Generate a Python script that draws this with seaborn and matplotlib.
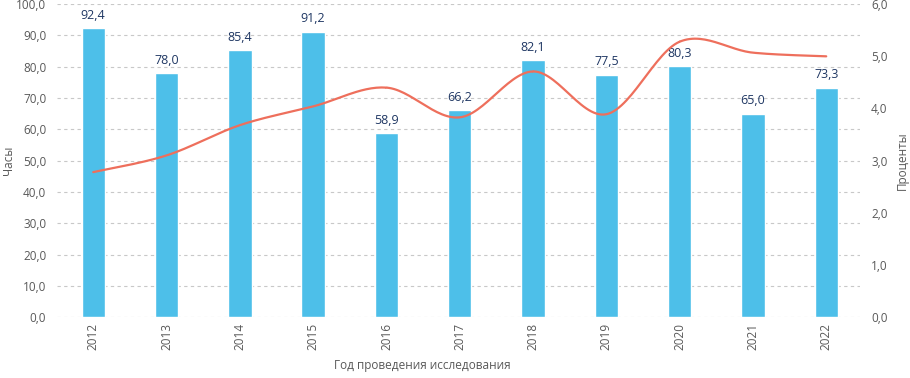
import numpy as np
import matplotlib
matplotlib.use("Agg")
import matplotlib.pyplot as plt
import seaborn as sns

years = ["2012", "2013", "2014", "2015", "2016", "2017", "2018", "2019", "2020", "2021", "2022"]
hours = [92.4, 78.0, 85.4, 91.2, 58.9, 66.2, 82.1, 77.5, 80.3, 65.0, 73.3]
percent = [2.78, 3.10, 3.68, 4.04, 4.40, 3.83, 4.71, 3.89, 5.28, 5.07, 5.00]

BAR = "#4DBFE9"
LINE = "#EE6F5C"
LABEL = "#1F3763"
TXT = "#595959"


def smooth(xs, ys, n=30):
    # Catmull-Rom curve through the points, like a spreadsheet "smoothed line"
    xs = np.asarray(xs, float)
    ys = np.asarray(ys, float)
    px = np.r_[xs[0], xs, xs[-1]]
    py = np.r_[ys[0], ys, ys[-1]]
    ox, oy = [], []
    t = np.linspace(0, 1, n)
    for i in range(1, len(px) - 2):
        for p, out in ((px, ox), (py, oy)):
            p0, p1, p2, p3 = p[i - 1], p[i], p[i + 1], p[i + 2]
            out.extend(0.5 * ((2 * p1) + (-p0 + p2) * t
                              + (2 * p0 - 5 * p1 + 4 * p2 - p3) * t ** 2
                              + (-p0 + 3 * p1 - 3 * p2 + p3) * t ** 3))
    return np.array(ox), np.array(oy)


sns.set_theme(style="white")
plt.rcParams["font.family"] = ["Open Sans", "DejaVu Sans"]

fig, ax = plt.subplots(figsize=(9.1, 3.78), dpi=100)
fig.subplots_adjust(left=0.063, right=0.945, top=0.989, bottom=0.161)

sns.barplot(x=years, y=hours, color=BAR, saturation=1, width=0.32, ax=ax, zorder=2)
for i, v in enumerate(hours):
    ax.text(i, v + 2.0, f"{v:.1f}".replace(".", ","), ha="center", va="bottom",
            fontsize=9, color=LABEL, zorder=4)

ax.set_ylim(0, 100)
ax.set_xlim(-0.49, 10.46)
ax.set_yticks(np.arange(0, 101, 10))
ax.set_yticklabels([f"{v:.1f}".replace(".", ",") for v in np.arange(0, 101, 10)])
ax.yaxis.grid(True, linestyle=(0, (3, 3)), color="#C8C8C8", linewidth=0.8)
ax.set_axisbelow(True)
ax.tick_params(axis="y", labelsize=8.5, labelcolor=TXT, length=0, pad=8)
ax.tick_params(axis="x", labelsize=8.5, labelcolor=TXT, length=0, pad=4, rotation=90)
ax.set_ylabel("Часы", fontsize=8.5, color=TXT, labelpad=1)
ax.set_xlabel("Год проведения исследования", fontsize=8.5, color=TXT)
ax.xaxis.set_label_coords(0.455, -0.135)
for s in ax.spines.values():
    s.set_visible(False)

ax2 = ax.twinx()
lx, ly = smooth(range(len(percent)), percent)
ax2.plot(lx, ly, color=LINE, linewidth=1.6, zorder=5)
ax2.set_ylim(0, 6)
ax2.set_yticks(np.arange(0, 7, 1))
ax2.set_yticklabels([f"{v:.1f}".replace(".", ",") for v in np.arange(0, 7, 1)])
ax2.tick_params(axis="y", labelsize=8.5, labelcolor=TXT, length=0, pad=8)
ax2.set_ylabel("Проценты", fontsize=8.5, color=TXT, labelpad=6)
ax2.grid(False)
for s in ax2.spines.values():
    s.set_visible(False)

fig.savefig("out.png", dpi=100)
